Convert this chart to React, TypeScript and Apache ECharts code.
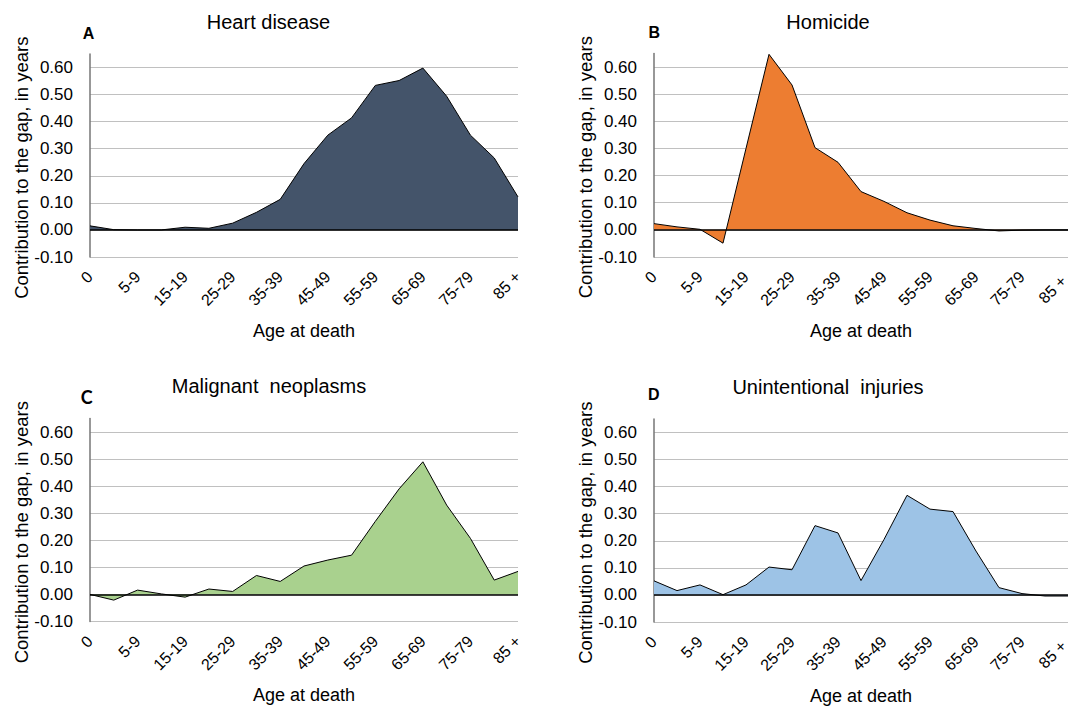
import React, { useEffect, useRef } from 'react';
import * as echarts from 'echarts';

const ageGroups = ['0', '1-4', '5-9', '10-14', '15-19', '20-24', '25-29', '30-34', '35-39', '40-44', '45-49', '50-54', '55-59', '60-64', '65-69', '70-74', '75-79', '80-84', '85 +'];

const heartDisease = [0.015, 0.001, 0.0, 0.0, 0.01, 0.006, 0.025, 0.065, 0.113, 0.245, 0.35, 0.414, 0.534, 0.552, 0.598, 0.494, 0.35, 0.266, 0.122];
const homicide = [0.023, 0.011, 0.002, -0.049, 0.3, 0.647, 0.534, 0.303, 0.249, 0.141, 0.105, 0.063, 0.036, 0.015, 0.005, -0.004, -0.001, 0.0, 0.0];
const malignantNeoplasms = [0.0, -0.021, 0.016, 0.002, -0.01, 0.02, 0.011, 0.07, 0.048, 0.105, 0.127, 0.145, 0.27, 0.39, 0.49, 0.33, 0.207, 0.053, 0.085];
const unintentionalInjuries = [0.052, 0.016, 0.037, 0.001, 0.037, 0.103, 0.093, 0.256, 0.229, 0.053, 0.205, 0.368, 0.317, 0.308, 0.162, 0.027, 0.005, -0.004, -0.004];

const yMin = -0.1;
const yMax = 0.65;
const yStep = 0.1;

const titles = ['Heart disease', 'Homicide', 'Malignant  neoplasms', 'Unintentional  injuries'];
const letters = ['A', 'B', 'C', 'D'];
const yName = 'Contribution to the gap, in years';
const xName = 'Age at death';

const FONT = '"Liberation Sans", Arial, sans-serif';
const LETTER_FONT = 'bold 16px "Liberation Sans", Arial, sans-serif';

const panels = [
  { data: heartDisease, color: '#44546A', left: 90, right: 518, top: 54, bottom: 257, titleX: 268.5, titleY: 21.5, letterX: 88.5, letterY: 33.5, letterFont: LETTER_FONT, lastPad: 0 },
  { data: homicide, color: '#ED7D31', left: 654, right: 1068, top: 53.5, bottom: 257, titleX: 828, titleY: 22, letterX: 654.3, letterY: 32.5, letterFont: LETTER_FONT, lastPad: 6 },
  { data: malignantNeoplasms, color: '#A9D18E', left: 90, right: 518, top: 418.5, bottom: 621.5, titleX: 269, titleY: 386, letterX: 86.7, letterY: 396.5, letterFont: 'bold 18px Lato, "Open Sans", sans-serif', lastPad: 0 },
  { data: unintentionalInjuries, color: '#9DC3E6', left: 654, right: 1068, top: 419, bottom: 622, titleX: 828, titleY: 387, letterX: 653.7, letterY: 394, letterFont: LETTER_FONT, lastPad: 6 },
];

export default function App() {
  const ref = useRef<HTMLDivElement>(null);
  useEffect(() => {
    if (!ref.current) return;
    const chart = echarts.init(ref.current, undefined, { renderer: 'svg' });

    const grid: any[] = [];
    const xAxis: any[] = [];
    const yAxis: any[] = [];
    const series: any[] = [];
    const graphic: any[] = [];

    panels.forEach((p, i) => {
      grid.push({
        left: p.left,
        top: p.top,
        width: p.right - p.left,
        height: p.bottom - p.top,
        containLabel: false,
        outerBoundsMode: 'none',
      });
      const catData = ageGroups.map((a, k) =>
        k === ageGroups.length - 1 && p.lastPad > 0
          ? { value: a, textStyle: { padding: [0, p.lastPad, 0, 0] } }
          : a
      );
      xAxis.push({
        type: 'category',
        gridIndex: i,
        data: catData,
        boundaryGap: false,
        axisLine: { show: false, onZero: false },
        axisTick: { show: false },
        splitLine: { show: false },
        axisLabel: {
          interval: 1,
          rotate: 45,
          fontSize: 16,
          fontFamily: FONT,
          color: '#000',
          margin: 17,
        },
      });
      yAxis.push({
        type: 'value',
        gridIndex: i,
        min: yMin,
        max: yMax,
        interval: yStep,
        axisLine: { show: true, lineStyle: { color: '#767676', width: 1.5 } },
        axisTick: { show: false },
        axisLabel: {
          showMaxLabel: false,
          fontSize: 17,
          fontFamily: FONT,
          color: '#000',
          margin: 17,
          formatter: (v: number) => (Math.abs(v) < 1e-9 ? 0 : v).toFixed(2),
        },
        splitLine: {
          show: true,
          showMaxLine: false,
          lineStyle: { color: '#c0c0c0', width: 1.2 },
        },
      });
      series.push({
        type: 'line',
        xAxisIndex: i,
        yAxisIndex: i,
        data: p.data,
        symbol: 'none',
        smooth: false,
        lineStyle: { color: '#000', width: 1 },
        areaStyle: { color: p.color, opacity: 1 },
        markLine: {
          silent: true,
          symbol: 'none',
          label: { show: false },
          lineStyle: { color: '#000', width: 1.5, type: 'solid' },
          data: [{ yAxis: 0 }],
        },
      });

      graphic.push({
        type: 'text',
        x: p.titleX,
        y: p.titleY,
        style: { text: titles[i], font: `20px ${FONT}`, fill: '#000', align: 'center', verticalAlign: 'middle' },
      });
      graphic.push({
        type: 'text',
        x: p.letterX,
        y: p.letterY,
        style: { text: letters[i], font: p.letterFont, fill: '#000', align: 'center', verticalAlign: 'middle' },
      });
      graphic.push({
        type: 'text',
        x: p.left - 69,
        y: p.top + 113.7,
        rotation: Math.PI / 2,
        style: { text: yName, font: `18.5px ${FONT}`, fill: '#000', align: 'center', verticalAlign: 'middle' },
      });
      graphic.push({
        type: 'text',
        x: (p.left + p.right) / 2,
        y: p.bottom + 73.5,
        style: { text: xName, font: `18px ${FONT}`, fill: '#000', align: 'center', verticalAlign: 'middle' },
      });
    });

    chart.setOption({
      animation: false,
      backgroundColor: '#fff',
      grid,
      xAxis,
      yAxis,
      series,
      graphic,
    });

    return () => {
      chart.dispose();
    };
  }, []);

  return <div ref={ref} style={{ position: 'absolute', left: 0, top: 0, width: 1071, height: 706 }} />;
}
